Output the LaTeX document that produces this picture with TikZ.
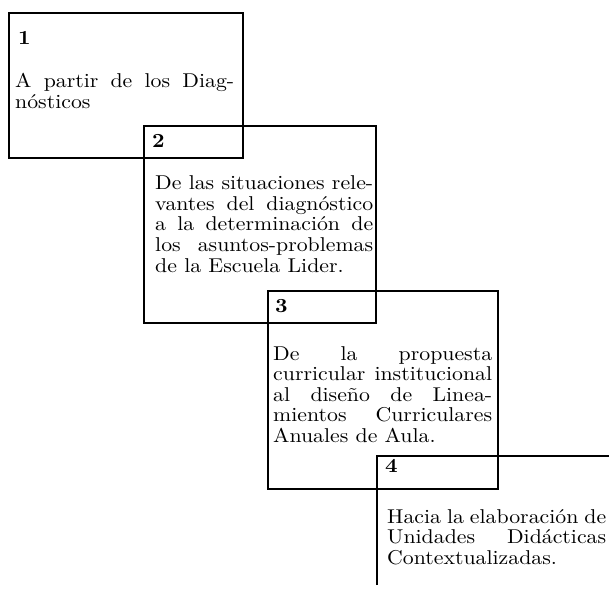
\documentclass[tikz,border=0pt]{standalone}
\usepackage{fontspec}
\setmainfont{lmroman10-regular.otf}[FakeStretch=1.09,BoldFont=lmroman10-bold.otf]
\tikzset{panel/.style={draw,line width=2pt,inner sep=0pt,anchor=north west},
  numlabel/.style={font=\fontsize{20}{20}\selectfont\bfseries,inner sep=0pt,anchor=base west},
  paneltext/.style={font=\fontsize{20}{20.5}\selectfont,text width=219pt,align=justify,inner sep=0pt,anchor=base west}}

\begin{document}
\begin{tikzpicture}[x=1pt,y=-1pt]
\useasboundingbox (0,0) rectangle (609,593);
% the four panels, each one overlapping the one before
\node[panel,minimum width=234pt,minimum height=145pt] (b1) at (8,12) {};
\node[panel,minimum width=232pt,minimum height=197pt] (b2) at (143,125) {};
\node[panel,minimum width=230pt,minimum height=198pt] (b3) at (267,290) {};
\node[panel,draw=none,minimum width=240pt,minimum height=127pt] (b4) at (377,456) {};
\draw[line width=2pt] (b4.south west) |- (b4.north east);
% numbers
\node[numlabel] (n1) at ([shift={(10,33)}]b1.north west) {1};
\node[numlabel] (n2) at ([shift={(9,23)}]b2.north west) {2};
\node[numlabel] (n3) at ([shift={(8,22)}]b3.north west) {3};
\node[numlabel] (n4) at ([shift={(8,16)}]b4.north west) {4};
% texts
\node[paneltext] (t1) at ([shift={(7,76)}]b1.north west) {A partir de los Diag-\linebreak nósticos};
\node[paneltext,text width=218pt] (t2) at ([shift={(12,65)}]b2.north west) {De las situaciones rele-\linebreak vantes del diagnóstico\linebreak a la determinación de\linebreak los asuntos-problemas\linebreak de la Escuela Lider.};
\node[paneltext] (t3) at ([shift={(6,70)}]b3.north west) {De la propuesta\linebreak curricular institucional\linebreak al diseño de Linea-\linebreak mientos Curriculares\linebreak Anuales de Aula.};
\node[paneltext] (t4) at ([shift={(10,67)}]b4.north west) {Hacia la elaboración de\linebreak Unidades Didácticas\linebreak Contextualizadas.};
\end{tikzpicture}
\end{document}
